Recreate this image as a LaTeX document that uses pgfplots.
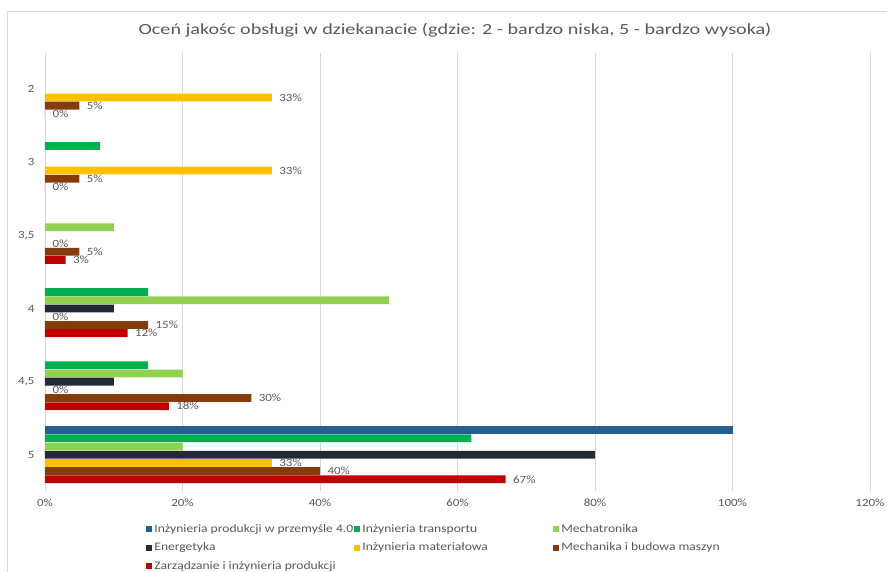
\documentclass[border=0pt]{standalone}
\usepackage{fontspec}
\setmainfont{Carlito}[FakeStretch=1.18]
\newfontfamily\titlefont{Carlito}[FakeStretch=1.3]
\usepackage{pgfplots}
\pgfplotsset{compat=1.18}

\definecolor{txtgray}{HTML}{595959}
\definecolor{gridgray}{HTML}{D9D9D9}
\definecolor{cBlue}{HTML}{255E91}
\definecolor{cGreen}{HTML}{00B050}
\definecolor{cLight}{HTML}{92D050}
\definecolor{cDark}{HTML}{222A35}
\definecolor{cYellow}{HTML}{FFC000}
\definecolor{cBrown}{HTML}{843C0C}
\definecolor{cRed}{HTML}{C00000}

\begin{document}
\begin{tikzpicture}
\path[use as bounding box] (0,0) rectangle (887pt,572pt);
% chart frame (left and top edges visible)
\draw[gridgray, line width=0.8pt] (7.5pt,0) -- (7.5pt,560.3pt) -- (887pt,560.3pt);
\node[font=\titlefont\fontsize{15.5}{18}\selectfont, text=txtgray] at (455pt,542pt)
  {Oceń jakośc obsługi w dziekanacie (gdzie: 2 - bardzo niska, 5 - bardzo wysoka)};
\begin{axis}[
    at={(45pt,80.7pt)}, anchor=south west,
    scale only axis, width=825pt, height=438.6pt,
    xbar, bar width=7.8pt,
    xmin=0, xmax=120, ymin=-0.5, ymax=5.5,
    xtick={0,20,...,120},
    xticklabels={0\%,20\%,40\%,60\%,80\%,100\%,120\%},
    ytick={0,1,2,3,4,5},
    yticklabels={5,{4,5},4,{3,5},3,2},
    xmajorgrids,
    major grid style={draw=gridgray, line width=0.8pt},
    axis line style={draw=none},
    major tick length=0pt,
    tick label style={font=\fontsize{11}{12}\selectfont, text=txtgray},
    xticklabel style={yshift=-4pt},
    yticklabel style={xshift=-7pt},
    /pgf/number format/assume math mode=true,
    point meta=x,
    every node near coord/.append style={font=\fontsize{11}{12}\selectfont, text=txtgray, xshift=4pt},
    legend columns=3,
    legend cell align=left,
    legend image code/.code={\fill[#1] (0pt,-3pt) rectangle (6pt,3pt);},
    legend style={at={(axis description cs:0.119,-0.066)}, anchor=north west,
        draw=none, fill=none, row sep=5pt,
        font=\fontsize{11.5}{13}\selectfont, text=txtgray},
]
\addplot[fill=cBlue, draw=none, bar shift=24.6pt] coordinates {(100,0)};
\addlegendentry{\makebox[198pt][l]{Inżynieria produkcji w przemyśle  4.0}}
\addplot[fill=cGreen, draw=none, bar shift=16.4pt] coordinates {(8,4) (15,2) (15,1) (62,0)};
\addlegendentry{\makebox[189pt][l]{Inżynieria transportu}}
\addplot[fill=cLight, draw=none, bar shift=8.2pt] coordinates {(10,3) (50,2) (20,1) (20,0)};
\addlegendentry{Mechatronika}
\addplot[fill=cDark, draw=none, bar shift=0pt] coordinates {(10,2) (10,1) (80,0)};
\addlegendentry{\makebox[198pt][l]{Energetyka}}
\addplot[fill=cYellow, draw=none, bar shift=-8.2pt,
    nodes near coords={\pgfmathprintnumber{\pgfplotspointmeta}\%}]
    coordinates {(33,5) (33,4) (0,3) (0,2) (0,1) (33,0)};
\addlegendentry{\makebox[189pt][l]{Inżynieria materiałowa}}
\addplot[fill=cBrown, draw=none, bar shift=-16.4pt,
    nodes near coords={\pgfmathprintnumber{\pgfplotspointmeta}\%}]
    coordinates {(5,5) (5,4) (5,3) (15,2) (30,1) (40,0)};
\addlegendentry{Mechanika i budowa maszyn}
\addplot[fill=cRed, draw=none, bar shift=-24.6pt,
    nodes near coords={\pgfmathprintnumber{\pgfplotspointmeta}\%}]
    coordinates {(0,5) (0,4) (3,3) (12,2) (18,1) (67,0)};
\addlegendentry{Zarządzanie i inżynieria produkcji}
\end{axis}
\end{tikzpicture}
\end{document}
